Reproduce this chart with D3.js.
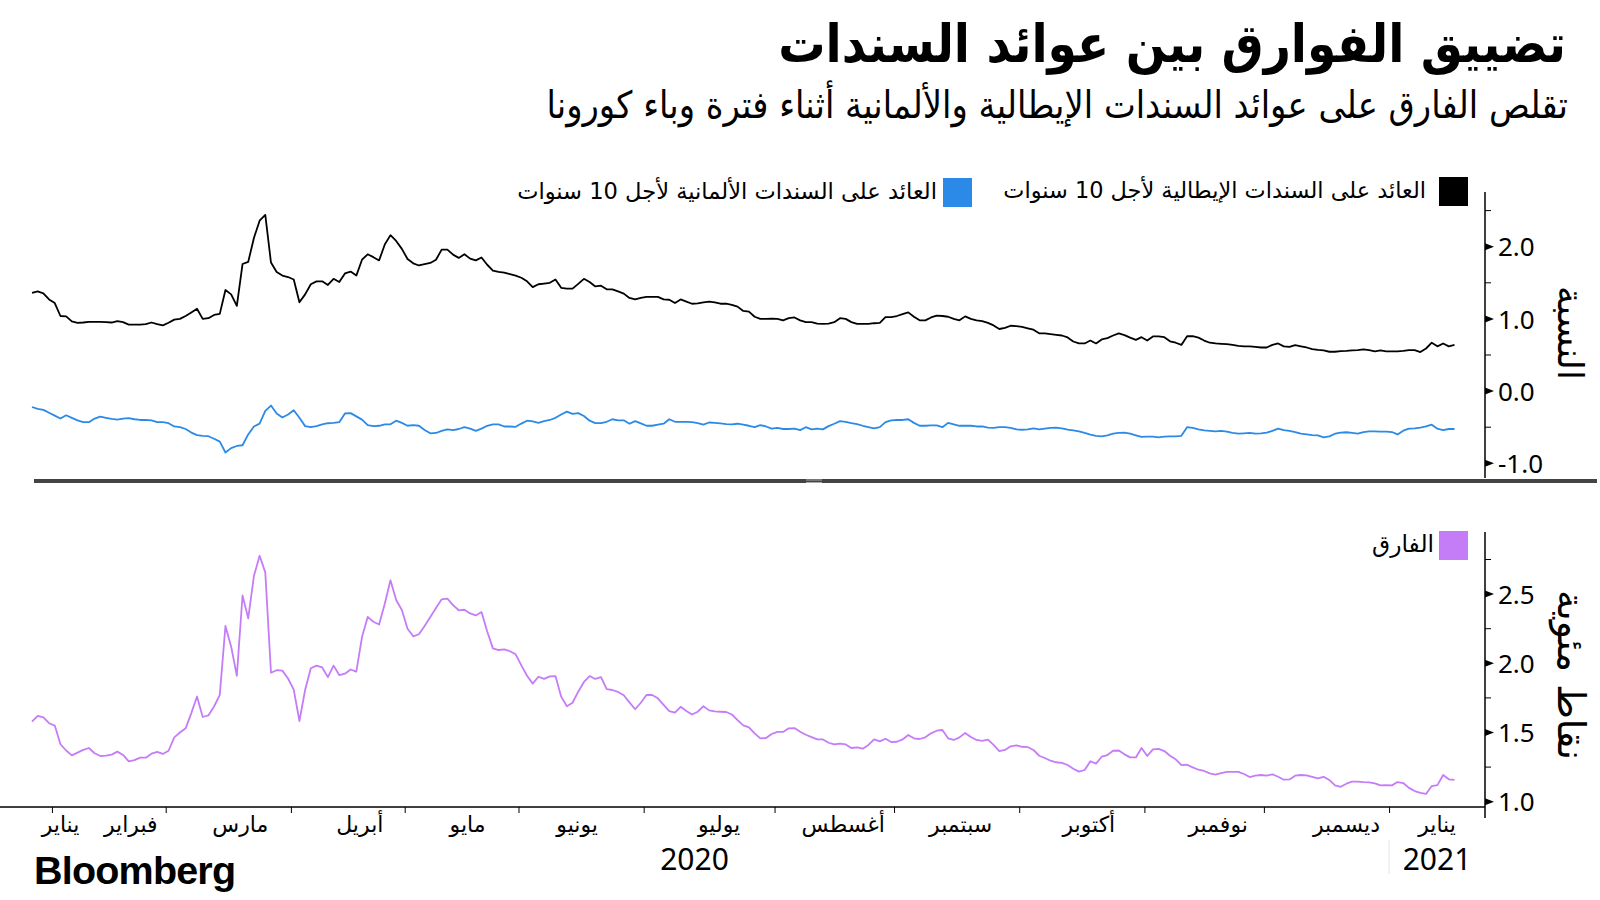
<!DOCTYPE html>
<html>
<head>
<meta charset="utf-8">
<title>تضييق الفوارق بين عوائد السندات</title>
<script src="https://cdn.jsdelivr.net/npm/d3@7"></script>
<style>
  body { margin: 0; background: #fff; }
  svg { display: block; }
</style>
</head>
<body>
<svg id="chart" width="1600" height="900"></svg>
<script>
// one value per trading day, late Jan 2020 -> mid Jan 2021
const itYield = [
  1.36,1.38,1.355,1.27,1.22,1.04,1.035,0.965,0.946,0.95,
  0.96,0.96,0.96,0.955,0.95,0.97,0.955,0.92,0.92,0.92,
  0.927,0.95,0.927,0.91,0.946,0.99,1.0,1.04,1.09,1.14,
  1.0,1.01,1.055,1.07,1.40,1.34,1.18,1.76,1.79,2.12,
  2.36,2.44,1.78,1.65,1.60,1.58,1.545,1.23,1.34,1.48,
  1.52,1.52,1.47,1.555,1.51,1.63,1.655,1.60,1.82,1.895,
  1.855,1.81,2.03,2.16,2.08,1.97,1.83,1.77,1.74,1.76,
  1.775,1.82,1.96,1.96,1.89,1.845,1.895,1.835,1.81,1.85,
  1.75,1.67,1.65,1.64,1.62,1.60,1.57,1.52,1.44,1.48,
  1.49,1.50,1.545,1.43,1.42,1.42,1.485,1.555,1.51,1.45,
  1.46,1.41,1.41,1.38,1.35,1.29,1.27,1.29,1.305,1.305,
  1.305,1.27,1.265,1.22,1.27,1.24,1.21,1.215,1.23,1.24,
  1.23,1.21,1.21,1.195,1.17,1.11,1.10,1.03,1.00,1.00,
  1.005,1.00,0.98,1.01,1.02,0.98,0.955,0.955,0.935,0.93,
  0.935,0.955,1.01,1.00,0.955,0.93,0.93,0.93,0.94,0.945,
  1.025,1.025,1.04,1.065,1.09,1.03,0.98,0.98,1.02,1.045,
  1.04,1.03,1.00,0.98,1.035,1.00,0.98,0.97,0.945,0.91,
  0.86,0.875,0.905,0.90,0.89,0.87,0.85,0.80,0.80,0.79,
  0.78,0.77,0.743,0.687,0.66,0.66,0.70,0.66,0.715,0.733,
  0.77,0.80,0.775,0.74,0.71,0.747,0.70,0.757,0.757,0.747,
  0.69,0.67,0.64,0.76,0.76,0.74,0.70,0.67,0.66,0.655,
  0.65,0.64,0.627,0.62,0.62,0.613,0.604,0.604,0.64,0.66,
  0.62,0.613,0.636,0.62,0.604,0.58,0.57,0.563,0.545,0.545,
  0.553,0.557,0.563,0.567,0.577,0.567,0.55,0.563,0.55,0.55,
  0.55,0.557,0.567,0.567,0.54,0.59,0.67,0.62,0.66,0.62,
  0.64
];
const deYield = [
  -0.22,-0.245,-0.26,-0.30,-0.34,-0.38,-0.335,-0.37,-0.405,-0.43,
  -0.43,-0.38,-0.355,-0.37,-0.385,-0.395,-0.38,-0.375,-0.39,-0.40,
  -0.40,-0.405,-0.43,-0.43,-0.445,-0.49,-0.50,-0.525,-0.575,-0.61,
  -0.62,-0.625,-0.66,-0.70,-0.85,-0.79,-0.76,-0.75,-0.60,-0.49,
  -0.45,-0.275,-0.20,-0.31,-0.365,-0.325,-0.265,-0.37,-0.485,-0.50,
  -0.485,-0.46,-0.445,-0.44,-0.43,-0.31,-0.305,-0.35,-0.395,-0.47,
  -0.485,-0.48,-0.46,-0.46,-0.41,-0.44,-0.48,-0.47,-0.48,-0.54,
  -0.585,-0.58,-0.55,-0.53,-0.54,-0.525,-0.50,-0.52,-0.55,-0.52,
  -0.48,-0.46,-0.46,-0.49,-0.49,-0.495,-0.45,-0.41,-0.42,-0.44,
  -0.415,-0.40,-0.37,-0.325,-0.285,-0.315,-0.305,-0.345,-0.41,-0.443,
  -0.443,-0.425,-0.39,-0.405,-0.405,-0.452,-0.415,-0.447,-0.48,-0.48,
  -0.465,-0.452,-0.39,-0.425,-0.425,-0.425,-0.43,-0.443,-0.465,-0.435,
  -0.44,-0.447,-0.457,-0.46,-0.452,-0.465,-0.48,-0.498,-0.47,-0.49,
  -0.52,-0.51,-0.525,-0.525,-0.52,-0.54,-0.50,-0.53,-0.52,-0.53,
  -0.485,-0.452,-0.415,-0.425,-0.443,-0.457,-0.48,-0.50,-0.515,-0.50,
  -0.43,-0.405,-0.40,-0.40,-0.39,-0.44,-0.48,-0.48,-0.475,-0.475,
  -0.50,-0.44,-0.46,-0.48,-0.48,-0.48,-0.49,-0.49,-0.505,-0.51,
  -0.498,-0.498,-0.51,-0.53,-0.535,-0.53,-0.515,-0.53,-0.52,-0.51,
  -0.505,-0.515,-0.535,-0.544,-0.557,-0.58,-0.604,-0.62,-0.627,-0.613,
  -0.59,-0.58,-0.575,-0.59,-0.613,-0.635,-0.63,-0.63,-0.64,-0.63,
  -0.627,-0.627,-0.62,-0.50,-0.51,-0.53,-0.544,-0.55,-0.557,-0.55,
  -0.56,-0.58,-0.59,-0.585,-0.58,-0.59,-0.585,-0.575,-0.55,-0.52,
  -0.54,-0.55,-0.567,-0.59,-0.60,-0.61,-0.613,-0.64,-0.627,-0.59,
  -0.575,-0.57,-0.58,-0.59,-0.567,-0.557,-0.557,-0.56,-0.56,-0.567,
  -0.60,-0.548,-0.52,-0.515,-0.505,-0.49,-0.465,-0.52,-0.54,-0.525,
  -0.525
];
const spread = [
  1.578,1.62,1.61,1.567,1.55,1.415,1.37,1.335,1.355,1.374,
  1.388,1.35,1.33,1.333,1.34,1.362,1.338,1.292,1.30,1.318,
  1.318,1.347,1.36,1.345,1.368,1.465,1.50,1.53,1.64,1.76,
  1.612,1.623,1.688,1.772,2.27,2.12,1.91,2.49,2.325,2.63,
  2.777,2.657,1.932,1.95,1.947,1.89,1.81,1.583,1.807,1.964,
  1.983,1.97,1.90,1.983,1.915,1.925,1.955,1.94,2.19,2.335,
  2.30,2.28,2.43,2.60,2.457,2.385,2.25,2.195,2.21,2.27,
  2.335,2.40,2.462,2.467,2.42,2.383,2.387,2.36,2.346,2.37,
  2.23,2.108,2.096,2.10,2.087,2.065,1.985,1.91,1.853,1.903,
  1.887,1.906,1.908,1.759,1.69,1.715,1.795,1.865,1.908,1.887,
  1.90,1.814,1.807,1.793,1.769,1.718,1.668,1.715,1.771,1.771,
  1.747,1.70,1.655,1.643,1.686,1.655,1.63,1.65,1.69,1.66,
  1.652,1.65,1.648,1.63,1.59,1.552,1.537,1.494,1.458,1.46,
  1.489,1.504,1.504,1.53,1.532,1.506,1.484,1.467,1.45,1.45,
  1.426,1.414,1.42,1.414,1.388,1.393,1.383,1.41,1.45,1.436,
  1.455,1.431,1.433,1.45,1.482,1.458,1.453,1.465,1.494,1.513,
  1.518,1.458,1.446,1.465,1.496,1.467,1.446,1.44,1.448,1.41,
  1.366,1.374,1.40,1.407,1.397,1.395,1.374,1.332,1.316,1.296,
  1.285,1.28,1.265,1.238,1.217,1.229,1.292,1.275,1.325,1.337,
  1.368,1.37,1.342,1.32,1.32,1.388,1.33,1.378,1.382,1.366,
  1.332,1.306,1.265,1.267,1.248,1.231,1.222,1.205,1.195,1.207,
  1.215,1.215,1.215,1.20,1.178,1.188,1.193,1.188,1.198,1.18,
  1.159,1.161,1.188,1.193,1.19,1.18,1.169,1.18,1.157,1.118,
  1.108,1.13,1.145,1.145,1.142,1.14,1.133,1.118,1.12,1.118,
  1.142,1.135,1.10,1.077,1.064,1.056,1.113,1.12,1.193,1.162,
  1.157
];

// trading days in each month shown (Jan 2020 partial ... Jan 2021 partial)
const monthDays = [4, 20, 22, 20, 20, 22, 23, 21, 22, 22, 21, 22, 12];
const monthLabels = ["يناير","فبراير","مارس","أبريل","مايو","يونيو","يوليو","أغسطس","سبتمبر","أكتوبر","نوفمبر","ديسمبر","يناير"];
const yearLabels = ["2020", "2021"];
const topTicks = [-1, 0, 1, 2];
const topMinor = [-0.5, 0.5, 1.5, 2.5];
const botTicks = [1, 1.5, 2, 2.5];
const botMinor = [1.25, 1.75, 2.25, 2.75];

const titleText = "تضييق الفوارق بين عوائد السندات";
const subtitleText = "تقلص الفارق على عوائد السندات الإيطالية والألمانية أثناء فترة وباء كورونا";
const legendIt = "العائد على السندات الإيطالية لأجل 10 سنوات";
const legendDe = "العائد على السندات الألمانية لأجل 10 سنوات";
const legendSpread = "الفارق";
const yTitleTop = "النسبة";
const yTitleBot = "نقاط مئوية";

const AR = "'DejaVu Sans', sans-serif";
const ARC = "'DejaVu Sans Condensed', 'DejaVu Sans', sans-serif";
const LAT = "'Noto Sans', 'Open Sans', sans-serif";
const BLUE = "#2b8ae8", PURPLE = "#c57cf7";

const svg = d3.select("#chart");
svg.append("rect").attr("width", 1600).attr("height", 900).attr("fill", "#fff");

function fit(sel, w) {
  const fs = parseFloat(sel.attr("font-size"));
  const cur = sel.node().getComputedTextLength();
  if (cur > 0) sel.attr("font-size", fs * w / cur);
  return sel;
}

const axisX = 1485;
const x = d3.scaleLinear().domain([0, itYield.length - 1]).range([32, 1454.5]);
const yTop = d3.scaleLinear().domain([-1, 2]).range([463.3, 246.7]);
const yBot = d3.scaleLinear().domain([1, 2.5]).range([801.7, 594.1]);

// titles
fit(svg.append("text").attr("x", 1566).attr("y", 62).attr("text-anchor", "end")
  .attr("font-family", ARC).attr("font-weight", "bold").attr("font-size", 50)
  .attr("fill", "#000").text(titleText), 788);
fit(svg.append("text").attr("x", 1568).attr("y", 118).attr("text-anchor", "end")
  .attr("font-family", ARC).attr("font-size", 30).attr("fill", "#000").text(subtitleText), 1022);

// legends
function legendItem(sqX, sqY, color, label, textRight, w) {
  svg.append("rect").attr("x", sqX).attr("y", sqY).attr("width", 29).attr("height", 29).attr("fill", color);
  fit(svg.append("text").attr("x", textRight).attr("y", sqY + 21).attr("text-anchor", "end")
    .attr("font-family", AR).attr("font-size", 22).attr("fill", "#000").text(label), w);
}
legendItem(1439, 177, "#000", legendIt, 1426, 423);
legendItem(943, 178, BLUE, legendDe, 937, 420);
legendItem(1439, 531, PURPLE, legendSpread, 1434, 62);

// lines
svg.append("path").datum(itYield)
  .attr("d", d3.line().x((d, i) => x(i)).y(d => yTop(d)))
  .attr("fill", "none").attr("stroke", "#000").attr("stroke-width", 1.8).attr("stroke-linejoin", "round");
svg.append("path").datum(deYield)
  .attr("d", d3.line().x((d, i) => x(i)).y(d => yTop(d)))
  .attr("fill", "none").attr("stroke", BLUE).attr("stroke-width", 1.8).attr("stroke-linejoin", "round");
svg.append("path").datum(spread)
  .attr("d", d3.line().x((d, i) => x(i)).y(d => yBot(d)))
  .attr("fill", "none").attr("stroke", PURPLE).attr("stroke-width", 1.8).attr("stroke-linejoin", "round");

// right value axes
function valueAxis(scale, ticks, minor, y0, y1) {
  const g = svg.append("g");
  g.append("line").attr("x1", axisX).attr("x2", axisX).attr("y1", y0).attr("y2", y1)
    .attr("stroke", "#000").attr("stroke-width", 1.5);
  g.selectAll(".minor").data(minor).join("line")
    .attr("x1", axisX).attr("x2", axisX + 6)
    .attr("y1", d => scale(d)).attr("y2", d => scale(d))
    .attr("stroke", "#000").attr("stroke-width", 1);
  g.selectAll(".tri").data(ticks).join("path")
    .attr("d", d => `M${axisX},${scale(d) - 3.5}L${axisX + 9},${scale(d)}L${axisX},${scale(d) + 3.5}Z`)
    .attr("fill", "#000");
  const ax = d3.axisRight(scale).tickValues(ticks).tickSize(0).tickPadding(0)
    .tickFormat(d => d.toFixed(1));
  const ag = svg.append("g").attr("transform", `translate(${axisX + 13},0)`).call(ax);
  ag.select(".domain").remove();
  ag.selectAll("text").attr("font-family", LAT).attr("font-size", 26).attr("fill", "#000")
    .attr("x", 0).attr("dy", "0.35em");
}
valueAxis(yTop, topTicks, topMinor, 192, 478);
valueAxis(yBot, botTicks, botMinor, 532, 818);

// axis titles
fit(svg.append("text").attr("transform", "translate(1558,333) rotate(90)")
  .attr("text-anchor", "middle").attr("font-family", AR).attr("font-size", 30)
  .attr("fill", "#000").text(yTitleTop), 94);
fit(svg.append("text").attr("transform", "translate(1558,675) rotate(90)")
  .attr("text-anchor", "middle").attr("font-family", AR).attr("font-size", 30)
  .attr("fill", "#000").text(yTitleBot), 170);

// panel separator
svg.append("line").attr("x1", 34).attr("x2", 1597).attr("y1", 481).attr("y2", 481)
  .attr("stroke", "#444").attr("stroke-width", 4);
svg.append("line").attr("x1", 806).attr("x2", 822).attr("y1", 480).attr("y2", 480)
  .attr("stroke", "#aaa").attr("stroke-width", 1);
svg.append("line").attr("x1", 806).attr("x2", 822).attr("y1", 482.5).attr("y2", 482.5)
  .attr("stroke", "#aaa").attr("stroke-width", 1);

// month axis
const starts = monthDays.map((d, i) => d3.sum(monthDays.slice(0, i)));
const bounds = starts.slice(1).map(s => s - 0.5);
const xAxis = d3.axisBottom(x).tickValues(bounds).tickSize(6).tickFormat("");
const xg = svg.append("g").attr("transform", "translate(0,807)").call(xAxis);
xg.select(".domain").remove();
xg.selectAll(".tick line").attr("stroke", "#000").attr("stroke-width", 1);
svg.append("line").attr("x1", 0).attr("x2", axisX).attr("y1", 807).attr("y2", 807)
  .attr("stroke", "#000").attr("stroke-width", 1.5);

// label nudge inside each month span (layout only)
const labelNudge = [20, 22, 12, 12, 6, -4, 10, 9, 4, 7, 14, 20, 0];
const edges = [x(-0.5)].concat(bounds.map(b => x(b))).concat([axisX]);
svg.selectAll(".mlab").data(monthLabels).join("text")
  .attr("x", (d, i) => (edges[i] + edges[i + 1]) / 2 + labelNudge[i])
  .attr("y", 832).attr("text-anchor", "middle")
  .attr("font-family", AR).attr("font-size", 22).attr("fill", "#000")
  .text(d => d);

const jan21 = x(bounds[bounds.length - 1]);
svg.append("line").attr("x1", jan21).attr("x2", jan21).attr("y1", 840).attr("y2", 874)
  .attr("stroke", "#e4e4e4").attr("stroke-width", 1);
svg.selectAll(".ylab").data(yearLabels).join("text")
  .attr("x", (d, i) => i === 0 ? jan21 / 2 : (jan21 + axisX) / 2)
  .attr("y", 870).attr("text-anchor", "middle")
  .attr("font-family", LAT).attr("font-size", 30).attr("fill", "#000")
  .text(d => d);

// logo
fit(svg.append("text").attr("x", 34).attr("y", 884)
  .attr("font-family", "'Liberation Sans', Arial, sans-serif").attr("font-weight", "bold")
  .attr("font-size", 38).attr("letter-spacing", -0.8).attr("fill", "#000").text("Bloomberg"), 201);
</script>
</body>
</html>
